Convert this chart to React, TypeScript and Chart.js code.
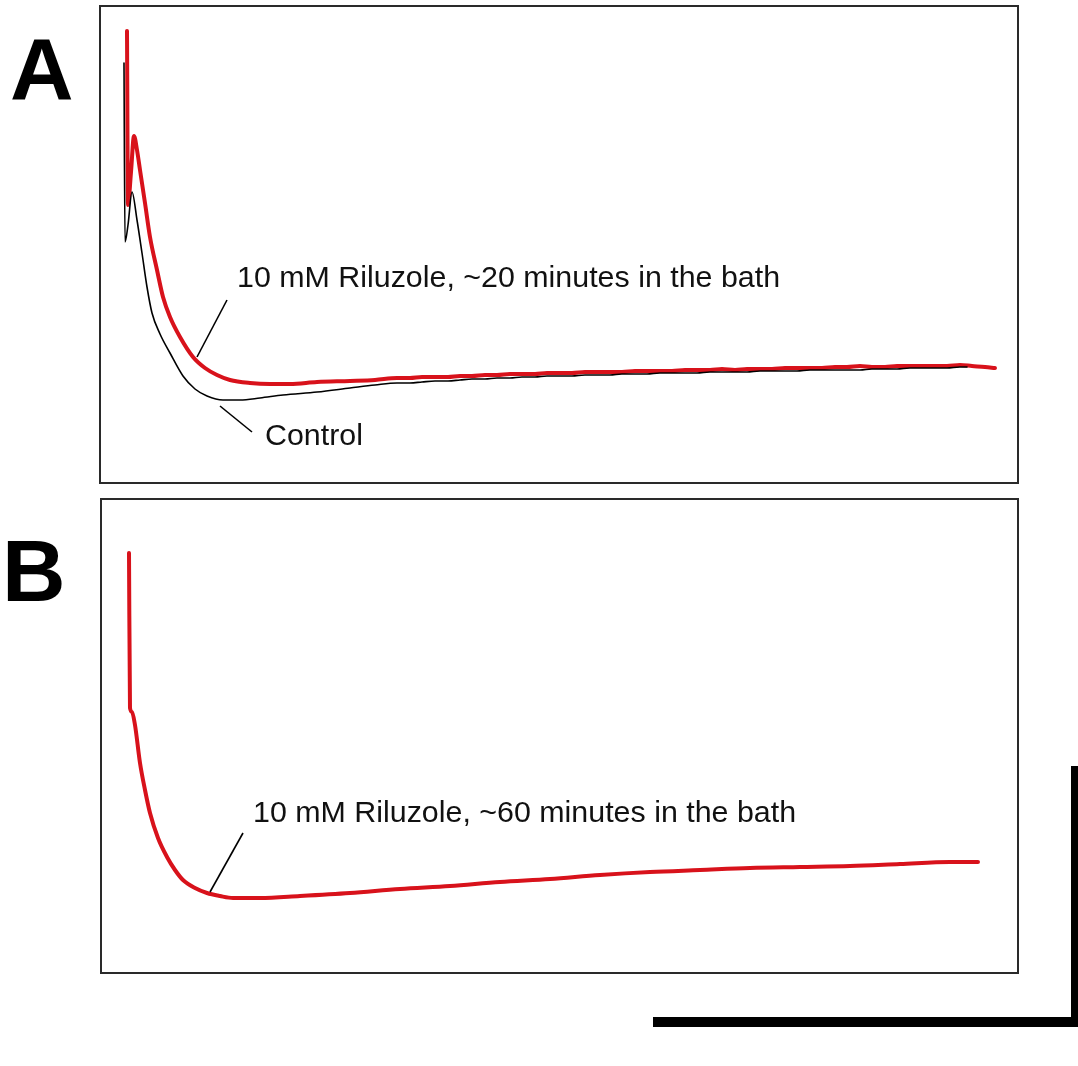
import React, { useEffect, useRef } from "react";
import { Chart, registerables } from "chart.js";

Chart.register(...registerables);

// Panel A – time (arbitrary units) and amplitude (arbitrary units)
const controlA_t = [25, 26, 29, 33, 38, 43, 48, 53, 61, 71, 84, 96, 108, 124, 141, 161, 184, 218, 251, 276,
  298, 311, 323, 336, 349, 361, 373, 386, 398, 411, 423, 436, 448, 461, 473, 486, 498, 511, 523, 536, 548,
  561, 573, 586, 598, 611, 623, 636, 648, 661, 673, 686, 698, 711, 723, 736, 748, 761, 773, 786, 798, 811,
  823, 836, 848, 861, 868];
const controlA_v = [421, 242, 259, 292, 264, 231, 197, 171, 150, 131, 108, 95, 88, 84, 84, 86, 89, 92, 96, 99,
  101, 101, 102, 103, 103, 104, 105, 105, 106, 106, 107, 107, 108, 108, 108, 109, 109, 109, 110, 110, 110,
  111, 111, 111, 111, 112, 112, 112, 112, 113, 113, 113, 113, 114, 114, 114, 114, 114, 115, 115, 115, 116,
  116, 116, 116, 117, 117];

const riluzole20_t = [28, 29, 32, 35, 38, 41, 46, 51, 58, 64, 71, 81, 94, 106, 118, 131, 151, 171, 191, 218, 251, 276,
  298, 311, 323, 336, 349, 361, 373, 386, 398, 411, 423, 436, 448, 461, 473, 486, 498, 511, 523, 536, 548,
  561, 573, 586, 598, 611, 623, 636, 648, 661, 673, 686, 698, 711, 723, 736, 748, 761, 773, 786, 798, 811,
  823, 836, 848, 861, 873, 886, 896];
const riluzole20_v = [453, 279, 312, 348, 334, 314, 281, 247, 214, 187, 167, 147, 127, 116, 109, 104, 101, 100, 100, 102, 103, 104,
  106, 106, 107, 107, 107, 108, 108, 109, 109, 110, 110, 110, 111, 111, 111, 112, 112, 112, 112, 113, 113,
  113, 113, 114, 114, 114, 115, 114, 115, 115, 115, 116, 116, 116, 116, 117, 117, 118, 117, 117, 118, 118,
  118, 118, 118, 119, 118, 117, 116];

// Panel B
const riluzole60_t = [29, 30, 32, 35, 40, 45, 50, 58, 67, 75, 83, 95, 107, 120, 133, 160, 200, 250, 300, 350,
  400, 450, 500, 550, 600, 650, 700, 750, 800, 850, 878];
const riluzole60_v = [421, 266, 262, 249, 211, 184, 161, 136, 117, 104, 94, 86, 81, 78, 76, 76, 78, 81, 85, 88,
  92, 95, 99, 102, 104, 106, 107, 108, 110, 112, 112];

const labelA_red = "10 mM Riluzole, ~20 minutes in the bath";
const labelA_ctrl = "Control";
const labelB_red = "10 mM Riluzole, ~60 minutes in the bath";

const RED = "#d8121b";
const FONT = "'Liberation Sans', Arial, Helvetica, sans-serif";

type Note = { text: string; anchor: [number, number]; elbow: [number, number]; textAt: [number, number] };

const notesA: Note[] = [
  { text: labelA_red, anchor: [98, 127], elbow: [128, 184], textAt: [138, 197] },
  { text: labelA_ctrl, anchor: [121, 78], elbow: [153, 52], textAt: [166, 39] },
];
const notesB: Note[] = [
  { text: labelB_red, anchor: [110, 82], elbow: [143, 141], textAt: [153, 152] },
];

function zip(t: number[], v: number[]) {
  return t.map((x, i) => ({ x, y: v[i] }));
}

function makePlugin(notes: Note[]) {
  return {
    id: "notesAndFrame",
    afterDraw(chart: any) {
      const ctx = chart.ctx;
      const xs = chart.scales.x;
      const ys = chart.scales.y;
      ctx.save();
      ctx.strokeStyle = "#2a2a2a";
      ctx.lineWidth = 2;
      ctx.strokeRect(2, 2, chart.width - 4, chart.height - 4);
      ctx.strokeStyle = "#000";
      ctx.lineWidth = 1.6;
      ctx.fillStyle = "#111";
      ctx.font = `30.4px ${FONT}`;
      ctx.textBaseline = "alphabetic";
      ctx.textAlign = "left";
      for (const n of notes) {
        ctx.beginPath();
        ctx.moveTo(xs.getPixelForValue(n.anchor[0]), ys.getPixelForValue(n.anchor[1]));
        ctx.lineTo(xs.getPixelForValue(n.elbow[0]), ys.getPixelForValue(n.elbow[1]));
        ctx.stroke();
        ctx.fillText(n.text, xs.getPixelForValue(n.textAt[0]), ys.getPixelForValue(n.textAt[1]));
      }
      ctx.restore();
    },
  };
}

function Panel(props: {
  left: number; top: number; width: number; height: number;
  xmin: number; xmax: number; ymin: number; ymax: number;
  datasets: any[]; notes: Note[];
}) {
  const ref = useRef<HTMLCanvasElement | null>(null);
  useEffect(() => {
    if (!ref.current) return;
    const chart = new Chart(ref.current, {
      type: "line",
      data: { datasets: props.datasets },
      options: {
        responsive: false,
        animation: false,
        events: [],
        layout: { padding: 0 },
        plugins: { legend: { display: false }, tooltip: { enabled: false } },
        elements: {
          point: { radius: 0 },
          line: { cubicInterpolationMode: "monotone", borderCapStyle: "round", borderJoinStyle: "round" },
        },
        scales: {
          x: { type: "linear", min: props.xmin, max: props.xmax, display: false },
          y: { type: "linear", min: props.ymin, max: props.ymax, display: false },
        },
      },
      plugins: [makePlugin(props.notes)],
    } as any);
    return () => chart.destroy();
  }, []);
  return (
    <canvas
      ref={ref}
      width={props.width}
      height={props.height}
      style={{ position: "absolute", left: props.left, top: props.top, width: props.width, height: props.height }}
    />
  );
}

export default function App() {
  const dsA = [
    { label: "Control", data: zip(controlA_t, controlA_v), borderColor: "#000", borderWidth: 1.6 },
    { label: "Riluzole 20 min", data: zip(riluzole20_t, riluzole20_v), borderColor: RED, borderWidth: 4 },
  ];
  const dsB = [
    { label: "Riluzole 60 min", data: zip(riluzole60_t, riluzole60_v), borderColor: RED, borderWidth: 4 },
  ];
  const letter: React.CSSProperties = {
    position: "absolute", fontFamily: FONT, fontWeight: "bold", fontSize: 88, lineHeight: "88px", color: "#000",
  };
  return (
    <div style={{ position: "absolute", left: 0, top: 0, width: 1078, height: 1066, background: "#fff", overflow: "hidden" }}>
      <div style={{ ...letter, left: 10, top: 25 }}>A</div>
      <div style={{ ...letter, left: 2, top: 527 }}>B</div>
      <Panel left={98} top={4} width={922} height={481} xmin={-1} xmax={921} ymin={-1} ymax={480}
        datasets={dsA} notes={notesA} />
      <Panel left={99} top={497} width={921} height={478} xmin={-1} xmax={920} ymin={-1} ymax={477}
        datasets={dsB} notes={notesB} />
      <div style={{ position: "absolute", left: 1071, top: 766, width: 7, height: 261, background: "#000" }} />
      <div style={{ position: "absolute", left: 653, top: 1017, width: 425, height: 10, background: "#000" }} />
    </div>
  );
}
